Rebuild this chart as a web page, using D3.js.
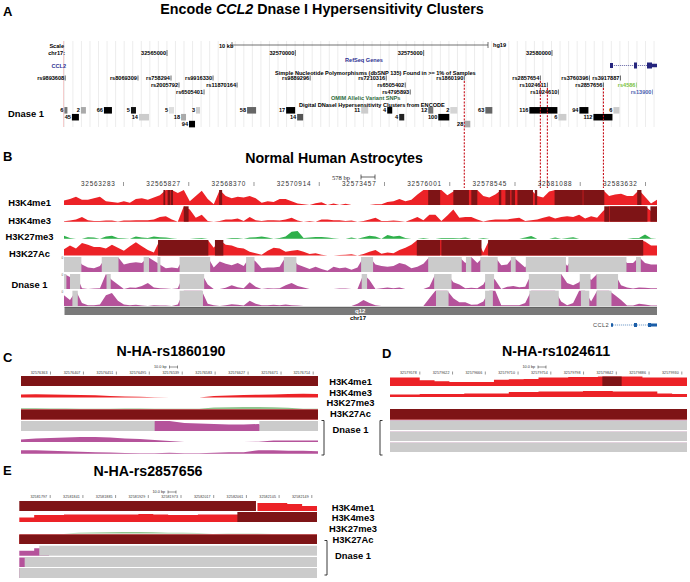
<!DOCTYPE html>
<html>
<head>
<meta charset="utf-8">
<script src="https://cdn.jsdelivr.net/npm/d3@7"></script>
<style>
body { margin: 0; background: #fff; }
text { font-family: "Liberation Sans", Arial, sans-serif; }
</style>
</head>
<body>
<svg id="fig" width="690" height="582"></svg>
<script>
// panel A: hg19 browser view
var gridBp = d3.range(32561000, 32584000, 333);
var clusterLabels = ["6","2","66","5","5","3","58","17","11","4","12","2","63","116","94","6",
    "45","14","18","14","4","100","6","112","94","28"];
var clusterStart = [32561003,32561646,32562543,32563596,32565078,32566131,32568120,32569641,32572566,32573580,32575179,32576037,32577402,32579118,32581068,32582394,
    32561295,32563908,32565546,32570070,32574048,32575569,32580249,32581614,32565858,32576583];
var clusterEnd = [32561120,32561841,32562855,32563791,32565273,32566287,32568471,32569992,32572839,32573775,32575374,32576310,32577675,32580210,32581419,32582628,
    32561568,32564298,32565741,32570304,32574243,32575998,32580561,32582355,32566092,32576817];
var clusterRow = [0,0,0,0,0,0,0,0,0,0,0,0,0,0,0,0,1,1,1,1,1,1,1,1,2,2];
var clusterShade = ["#777","#aaa","#000","#111","#ddd","#ccc","#666","#000","#ccc","#000","#777","#d5d5d5","#666","#000","#000","#ccc",
    "#000","#ccc","#aaa","#555","#222","#000","#ccc","#000","#000","#aaa"];
var snpNames = ["rs9893608","rs8069309","rs758294","rs9916330","rs9889296","rs7210316","rs1860190","rs2857654","rs3760396","rs3917887",
    "rs2005792","rs11870164","rs6505402","rs1024611","rs2857656","rs4586",
    "rs6505401","rs4795893","rs1024610","rs13900"];
var snpPos = [32561034,32563869,32565156,32566794,32570577,32573541,32576583,32579547,32581458,32582667,
    32565468,32567730,32574282,32579820,32582004,32583291,
    32566443,32574477,32580249,32583915];
var snpRow = [0,0,0,0,0,0,0,0,0,0,1,1,1,1,1,1,2,2,2,2];
var snpColor = {"rs4586": "#7ac143", "rs13900": "#4a62b0"};
var markedSnps = ["rs1860190","rs2857654","rs1024611","rs2857656"];
var chromTicks = [32565000,32570000,32575000,32580000];

// panel B: profiles read in 100 bins across the window, 100 = top of track
var overviewTicks = [32563283,32565827,32568370,32570914,32573457,32576001,32578545,32581088,32583632];
var h3k4me1 = [30,40,55,35,35,45,55,25,20,15,25,15,40,45,35,50,65,100,100,80,100,25,60,95,40,5,100,60,45,55,50,60,45,15,25,20,40,40,25,10,5,0,12,18,0,10,0,
    8,0,0,0,0,5,5,20,25,40,25,35,70,100,100,100,100,65,90,100,100,100,100,60,50,70,100,100,100,100,100,100,60,50,90,100,100,100,100,100,100,100,100,100,60,70,75,60,60,100,55,10,35];
var h3k4me3 = [3,8,15,30,10,5,5,8,8,2,8,8,10,10,10,15,30,35,15,0,100,80,25,45,5,0,5,15,15,20,5,30,10,5,10,10,8,15,25,8,0,5,0,15,15,10,10,
    5,8,0,5,15,25,5,5,8,5,0,15,30,10,45,45,5,40,80,25,30,30,15,2,10,15,15,15,20,25,5,10,15,25,35,20,30,35,30,45,20,35,25,70,100,100,100,100,100,100,100,70,100];
var h3k27me3 = [20,5,0,0,10,8,0,15,20,5,3,0,15,8,5,15,10,8,3,0,0,0,3,5,0,0,0,0,5,5,0,8,10,15,8,0,5,15,45,50,5,8,12,12,8,3,0,
    0,8,0,10,20,15,0,25,15,20,5,0,0,5,0,0,5,5,5,3,8,0,0,5,0,0,0,0,0,0,8,18,0,0,0,8,0,5,10,0,0,0,0,0,0,0,0,0,5,5,28,3,0];
var h3k27ac = [40,65,45,80,70,55,55,45,70,50,30,60,85,60,35,20,100,100,100,100,100,100,100,100,100,50,100,70,65,50,45,25,15,5,30,50,45,25,30,35,25,10,15,5,0,0,3,
    5,8,0,10,25,35,12,20,15,35,50,70,100,100,100,100,100,100,100,100,100,100,100,20,100,100,100,100,100,100,100,100,100,100,100,100,100,100,100,100,100,100,100,100,100,100,100,100,100,100,90,65,65];
var dnaseA = [100,100,100,50,30,25,40,100,100,100,50,60,65,60,100,75,50,25,30,25,100,100,100,100,100,30,70,55,45,60,40,100,70,25,30,30,35,100,100,50,35,20,35,20,8,35,25,
    30,15,30,100,100,50,40,35,40,60,50,25,35,55,100,100,100,100,100,100,60,100,60,100,100,100,45,50,100,65,30,100,100,100,100,100,100,40,100,100,100,100,100,100,100,100,100,60,60,100,60,50,50];
var dnaseB = [100,80,100,5,0,3,5,100,60,30,0,10,8,20,40,10,5,3,0,5,100,100,100,100,30,0,0,8,25,12,5,45,15,0,5,3,5,25,40,20,10,0,0,0,0,0,3,
    3,0,0,100,60,0,5,10,5,10,0,0,0,0,15,100,100,100,45,30,5,8,5,30,100,60,0,15,20,12,15,100,100,100,100,100,100,40,25,45,100,60,100,100,100,100,25,10,3,10,8,5,5];
var dnaseC = [70,40,100,20,5,5,10,70,85,35,10,5,8,3,0,5,3,3,0,10,100,100,100,100,15,5,0,5,12,8,3,35,15,5,5,8,5,10,5,3,0,0,0,0,0,0,0,
    0,0,15,40,20,5,0,0,0,0,0,0,0,0,50,100,100,100,50,25,25,8,10,30,100,100,5,5,5,5,20,100,100,100,100,100,30,5,20,100,100,30,100,100,100,70,40,3,3,15,10,3,3];
// saturated stretches, in the same bins
var h3k4me1Sat = [[16.6,16.9],[17.3,17.7],[17.8,18.2],[25.9,26.4],[60.8,62.8],[65,67.6],[68,69],[72.6,73],[73.7,74.5],[74.7,75.3],[75.7,78.3],[78.6,79],[81.9,86.6],[86.7,90.2],[95.7,96.4]];
var h3k4me3Sat = [[20,20.8],[90.2,91],[91.1,97.4],[97.9,99]];
var h3k27acSat = [[15.7,24.1],[25.2,26.6],[58.9,62.8],[63,69.7],[70.8,96.7]];
var dnaseASat = [[0,2.9],[6.3,9.1],[13.3,14.2],[15.6,16.1],[19.3,24.4],[30.4,31.8],[36.7,38.8],[49.6,51.6],[60.8,66.4],[67.1,68],[69.5,72.4],[74.6,75.4],[77.1,83.8],[84.2,93.9],[95.5,96.3]];
var dnaseBSat = [[0,0.4],[1,2.7],[7.1,7.8],[19.3,23.4],[49.7,50.6],[61.8,64.7],[70.3,71.8],[77.6,83],[86.1,87.9],[88.9,92.5]];
var dnaseCSat = [[1.4,2.3],[19.3,23.2],[62.1,64.2],[70.3,71.6],[77.7,82.6],[86.3,87.7],[88.9,91.4]];

// panels C, D, E: zoomed windows, 21 steps across
var ticksC = [32576363,32576407,32576451,32576495,32576539,32576583,32576627,32576671,32576714];
var cMe3 = [30,32,30,28,25,22,15,10,8,3,0,0,0,15,20,25,28,30,35,38,35];
var cK27me3 = [8,8,6,5,3,2,3,5,5,3,2,2,3,14,17,20,20,17,12,3,3];
var cDnaseA = [0,0,0,0,0,0,0,0,0,100,100,80,75,70,65,65,70,0,0,0,0];
var cDnaseB = [25,35,40,45,50,50,45,35,30,20,10,0,0,0,0,0,3,15,15,15,15];
var cDnaseC = [35,35,30,25,20,15,12,8,5,5,10,5,5,10,15,15,35,35,30,30,25];
var ticksD = [32579578,32579622,32579666,32579710,32579754,32579798,32579842,32579886,32579930];
var dMe1 = [90,90,60,50,43,43,43,65,70,75,90,90,95,95,100,100,100,90,90,90,70];
var dMe3 = [25,25,30,30,30,35,35,35,50,50,55,55,55,60,60,55,55,55,35,30,30];
var ticksE = [32581797,32581841,32581885,32581929,32581973,32582017,32582061,32582105,32582149];
var eMe1 = [0,0,0,0,0,0,0,0,0,0,0,0,0,0,0,0,80,80,70,50,35];
var eMe3 = [45,70,70,75,75,75,75,75,80,75,70,70,75,75,75,0,0,0,0,0,0];
var eK27me3 = [0,0,0,0,8,10,12,15,15,12,8,8,5,0,3,3,3,0,0,0,0];
var eDnaseA = [50,75,0,0,0,0,0,0,0,0,0,0,0,0,0,0,0,0,0,0,0];
var eDnaseB = [95,0,0,0,0,0,0,0,0,0,0,0,0,0,0,0,0,0,0,0,0];
var flat = [100,100];

var RED = "#ec2227", DARK = "#7e1416", GREEN = "#2fb04b", PURPLE = "#b5539b", GREY = "#cbcbcb";

var svg = d3.select("#fig");

function label(txt, x, y, size, opts) {
    opts = opts || {};
    return svg.append("text")
        .attr("x", x).attr("y", y)
        .attr("font-size", size)
        .attr("font-weight", opts.weight || "bold")
        .attr("text-anchor", opts.anchor || "start")
        .attr("dominant-baseline", "central")
        .attr("fill", opts.fill || "#000")
        .text(txt);
}

// ---------------- panel letters and titles
label("A", 3, 11, 13);
label("B", 3, 156, 13);
label("C", 3, 357, 13);
label("D", 382, 353, 13);
label("E", 3, 470, 13);

var titleA = svg.append("text").attr("x", 322).attr("y", 9).attr("text-anchor", "middle")
    .attr("dominant-baseline", "central").attr("font-size", 14.3).attr("font-weight", "bold");
titleA.append("tspan").text("Encode ");
titleA.append("tspan").attr("font-style", "italic").text("CCL2");
titleA.append("tspan").text(" Dnase I Hypersensitivity Clusters");
label("Normal Human Astrocytes", 334, 158, 14.2, {anchor: "middle"});
label("N-HA-rs1860190", 171, 351, 14.2, {anchor: "middle"});
label("N-HA-rs1024611", 556, 351, 14.2, {anchor: "middle"});
label("N-HA-rs2857656", 148, 471, 14.2, {anchor: "middle"});

// ---------------- panel A
var xA = d3.scaleLinear().domain([32565000, 32580000]).range([167, 552]);
var rowY = d3.scaleBand().domain([0, 1, 2]).range([106.7, 127.7]).padding(0.05);
var snpY = d3.scalePoint().domain([0, 1, 2]).range([78, 92]);

svg.append("g").selectAll("line").data(gridBp).enter().append("line")
    .attr("x1", function (d) { return xA(d); }).attr("x2", function (d) { return xA(d); })
    .attr("y1", 41).attr("y2", 127)
    .attr("stroke", "#e7e7e7").attr("stroke-width", 0.8);
svg.append("line").attr("x1", 63.5).attr("x2", 63.5).attr("y1", 41).attr("y2", 127).attr("stroke", "#f2c0c0").attr("stroke-width", 0.8);

var SMALL = 5.6;
label("Scale", 64, 46, SMALL, {anchor: "end"});
label("chr17:", 65, 53, SMALL, {anchor: "end"});
label("10 kb", 219, 46, SMALL);
svg.append("line").attr("x1", 232).attr("x2", 488).attr("y1", 45).attr("y2", 45).attr("stroke", "#333").attr("stroke-width", 0.7);
svg.append("line").attr("x1", 232).attr("x2", 232).attr("y1", 42).attr("y2", 48).attr("stroke", "#333").attr("stroke-width", 0.7);
svg.append("line").attr("x1", 488).attr("x2", 488).attr("y1", 42).attr("y2", 48).attr("stroke", "#333").attr("stroke-width", 0.7);
label("hg19", 493, 45, SMALL);

chromTicks.forEach(function (t) {
    label(String(t), xA(t) - 1, 53, SMALL, {anchor: "end"});
    svg.append("line").attr("x1", xA(t)).attr("x2", xA(t)).attr("y1", 50).attr("y2", 56).attr("stroke", "#111").attr("stroke-width", 0.6);
});

label("RefSeq Genes", 345, 59.5, SMALL, {fill: "#2e3192"});
label("CCL2", 66, 66, SMALL, {anchor: "end", fill: "#2e3192"});
label("Simple Nucleotide Polymorphisms (dbSNP 135) Found in >= 1% of Samples", 275, 73, SMALL);
label("OMIM Allelic Variant SNPs", 331, 98, SMALL, {fill: "#2e6b3c"});
label("Digital DNaseI Hypersensitivity Clusters from ENCODE", 299, 105, SMALL);
label("Dnase 1", 8, 113, 9.4);

function geneModel(x0, x1, y, exons, color) {
    svg.append("line").attr("x1", x0).attr("x2", x1).attr("y1", y).attr("y2", y).attr("stroke", color).attr("stroke-width", 0.6).attr("stroke-dasharray", "1.2 0.8");
    svg.append("g").selectAll("rect").data(exons).enter().append("rect")
        .attr("x", function (d) { return d[0]; }).attr("width", function (d) { return d[1] - d[0]; })
        .attr("y", function (d) { return y - d[2] / 2; }).attr("height", function (d) { return d[2]; })
        .attr("fill", color);
}
geneModel(610, 657, 65.5, [[610, 613, 5], [634, 637, 6], [647, 652, 6], [652, 657, 3.5]], "#25257d");

snpNames.forEach(function (name, i) {
    var x = xA(snpPos[i]), y = snpY(snpRow[i]), color = snpColor[name] || "#000";
    label(name, x - 1, y, SMALL, {anchor: "end", fill: color});
    svg.append("line").attr("x1", x).attr("x2", x).attr("y1", y - 2.5).attr("y2", y + 2.5).attr("stroke", color).attr("stroke-width", 0.6);
});

clusterLabels.forEach(function (txt, i) {
    var y = rowY(clusterRow[i]);
    svg.append("rect").attr("x", xA(clusterStart[i])).attr("width", xA(clusterEnd[i]) - xA(clusterStart[i]))
        .attr("y", y).attr("height", rowY.bandwidth()).attr("fill", clusterShade[i]);
    label(txt, xA(clusterStart[i]) - 1, y + rowY.bandwidth() / 2, SMALL, {anchor: "end"});
});

// red dashed guides from the marked SNPs into panel B
markedSnps.forEach(function (name) {
    var i = snpNames.indexOf(name);
    svg.append("line").attr("x1", xA(snpPos[i])).attr("x2", xA(snpPos[i]))
        .attr("y1", snpY(snpRow[i]) + 3).attr("y2", 188)
        .attr("stroke", "#c8101a").attr("stroke-width", 1.1).attr("stroke-dasharray", "2 1.4");
});

// ---------------- shared track drawing
function drawTrack(x, top, bottom, values, sat, fill, satFill, curve) {
    var y = d3.scaleLinear().domain([0, 100]).range([bottom, top]);
    var area = d3.area()
        .x(function (d, i) { return x(i * (x.domain()[1] / (values.length - 1))); })
        .y0(bottom)
        .y1(function (d) { return y(d); })
        .curve(curve);
    svg.append("path").datum(values).attr("d", area).attr("fill", fill);
    svg.append("g").selectAll("rect").data(sat).enter().append("rect")
        .attr("x", function (d) { return x(d[0]); })
        .attr("width", function (d) { return x(d[1]) - x(d[0]); })
        .attr("y", top).attr("height", bottom - top)
        .attr("fill", satFill);
}

function tickRow(scale, ticks, y, len, size, spacing, gap, dy, color) {
    var axis = d3.axisBottom(scale).tickValues(ticks).tickSize(len).tickFormat(d3.format("d"));
    var g = svg.append("g").attr("transform", "translate(0," + y + ")").call(axis);
    g.select(".domain").remove();
    g.selectAll("line").attr("stroke", color).attr("stroke-width", 0.5);
    g.selectAll("text")
        .attr("x", -gap).attr("y", dy).attr("dy", "0.35em")
        .attr("text-anchor", "end")
        .attr("font-size", size)
        .attr("font-family", "Liberation Sans")
        .attr("letter-spacing", spacing)
        .attr("fill", color);
}

// ---------------- panel B
var xB = d3.scaleLinear().domain([0, 99]).range([64, 657]);
var xBbp = d3.scaleLinear().domain([32563283, 32583632]).range([123, 645]);
tickRow(xBbp, overviewTicks, 182, 4, 6.4, 0.75, 8, 2, "#333");
label("578 bp", 332, 177, 6.6, {weight: "normal", fill: "#222"}).attr("style", "font-family:'Liberation Serif'");
svg.append("line").attr("x1", 361).attr("x2", 375).attr("y1", 177).attr("y2", 177).attr("stroke", "#222").attr("stroke-width", 0.7);
svg.append("line").attr("x1", 361).attr("x2", 361).attr("y1", 174.5).attr("y2", 179.5).attr("stroke", "#222").attr("stroke-width", 0.7);
svg.append("line").attr("x1", 375).attr("x2", 375).attr("y1", 174.5).attr("y2", 179.5).attr("stroke", "#222").attr("stroke-width", 0.7);

drawTrack(xB, 190, 205, h3k4me1, h3k4me1Sat, RED, DARK, d3.curveLinear);
drawTrack(xB, 206.3, 221.7, h3k4me3, h3k4me3Sat, RED, DARK, d3.curveLinear);
drawTrack(xB, 223.3, 238.8, h3k27me3, [], GREEN, DARK, d3.curveLinear);
drawTrack(xB, 240, 255.5, h3k27ac, h3k27acSat, RED, DARK, d3.curveLinear);
drawTrack(xB, 257, 272, dnaseA, dnaseASat, PURPLE, GREY, d3.curveLinear);
drawTrack(xB, 274, 289, dnaseB, dnaseBSat, PURPLE, GREY, d3.curveLinear);
drawTrack(xB, 290.7, 306, dnaseC, dnaseCSat, PURPLE, GREY, d3.curveLinear);
[258, 275, 292].forEach(function (y) {
    label("0", 61.5, y, 3, {weight: "normal", fill: "#555"});
});

svg.append("rect").attr("x", 64.5).attr("y", 307).attr("width", 592.5).attr("height", 8).attr("fill", "#7a7a7a");
svg.append("line").attr("x1", 64.5).attr("x2", 657).attr("y1", 307.2).attr("y2", 307.2).attr("stroke", "#444").attr("stroke-width", 0.6);
label("q12", 355, 310.5, 6, {fill: "#fff"});
label("chr17", 350, 317.5, 6, {fill: "#000"});
label("CCL2", 593, 325, 5.6, {weight: "normal", fill: "#444"}).attr("letter-spacing", 0.4);
geneModel(611, 657, 325, [[611, 613, 3.5], [634, 637, 4], [648, 651, 4], [651, 657, 3]], "#1b5ea8");

[["H3K4me1", 202], ["H3K4me3", 220], ["H3K27me3", 236], ["H3K27Ac", 253], ["Dnase 1", 284]].forEach(function (d) {
    label(d[0], 29.5, d[1], 9.4, {anchor: "middle"});
});

// ---------------- panels C, D, E
function scaleBar(txtX, barX, y) {
    label("10.0 bp", txtX, y, 3.8, {weight: "normal", fill: "#333"});
    svg.append("line").attr("x1", barX).attr("x2", barX + 8).attr("y1", y).attr("y2", y).attr("stroke", "#222").attr("stroke-width", 0.5);
    svg.append("line").attr("x1", barX).attr("x2", barX).attr("y1", y - 1.5).attr("y2", y + 1.5).attr("stroke", "#222").attr("stroke-width", 0.5);
    svg.append("line").attr("x1", barX + 8).attr("x2", barX + 8).attr("y1", y - 1.5).attr("y2", y + 1.5).attr("stroke", "#222").attr("stroke-width", 0.5);
}

function bracket(x, y0, y1, dir) {
    var line = d3.line();
    svg.append("path").attr("d", line([[x + dir * 2.5, y0], [x, y0], [x, y1], [x + dir * 2.5, y1]]))
        .attr("fill", "none").attr("stroke", "#222").attr("stroke-width", 0.9);
}

// panel C
var xC = d3.scaleLinear().domain([0, 20]).range([21, 318]);
var xCbp = d3.scaleLinear().domain([ticksC[0], ticksC[8]]).range([50, 312.7]);
tickRow(xCbp, ticksC, 371.5, 3, 3.6, 0.1, 3, 1.5, "#333");
scaleBar(154, 169.5, 367);
drawTrack(xC, 376, 386, flat, [[0, 20]], RED, DARK, d3.curveStepAfter);
drawTrack(xC, 387.5, 397.5, cMe3, [], RED, DARK, d3.curveLinear);
drawTrack(xC, 399, 409, cK27me3, [], "#8fc48d", DARK, d3.curveLinear);
drawTrack(xC, 409.5, 419.5, flat, [[0, 20]], RED, DARK, d3.curveStepAfter);
drawTrack(xC, 421, 431, cDnaseA, [[0, 9], [16.05, 20]], PURPLE, GREY, d3.curveLinear);
drawTrack(xC, 432, 442, cDnaseB, [], PURPLE, GREY, d3.curveLinear);
drawTrack(xC, 443.5, 453.7, cDnaseC, [], PURPLE, GREY, d3.curveLinear);
[["H3K4me1", 381], ["H3K4me3", 392], ["H3K27me3", 402], ["H3K27Ac", 413], ["Dnase 1", 429]].forEach(function (d) {
    label(d[0], 350.5, d[1], 9.4, {anchor: "middle"});
});
bracket(324, 420.5, 455, -1);

// panel D
var xD = d3.scaleLinear().domain([0, 20]).range([390, 687]);
var xDbp = d3.scaleLinear().domain([ticksD[0], ticksD[8]]).range([419.3, 681.3]);
tickRow(xDbp, ticksD, 371.5, 3, 3.6, 0.1, 3, 1.5, "#333");
scaleBar(522.5, 538, 367);
drawTrack(xD, 376.5, 386, dMe1, [[14.3, 15.6]], RED, DARK, d3.curveStepAfter);
drawTrack(xD, 387, 397, dMe3, [], RED, DARK, d3.curveStepAfter);
drawTrack(xD, 409, 419.5, flat, [[0, 20]], RED, DARK, d3.curveStepAfter);
drawTrack(xD, 420.5, 430, flat, [[0, 20]], PURPLE, GREY, d3.curveStepAfter);
drawTrack(xD, 431.7, 441, flat, [[0, 20]], PURPLE, GREY, d3.curveStepAfter);
drawTrack(xD, 442.7, 452, flat, [[0, 20]], PURPLE, GREY, d3.curveStepAfter);
bracket(380, 420.5, 455, 1);

// panel E
var xE = d3.scaleLinear().domain([0, 20]).range([19.3, 317]);
var xEbp = d3.scaleLinear().domain([ticksE[0], ticksE[8]]).range([49.7, 311.3]);
tickRow(xEbp, ticksE, 495, 3, 3.6, 0.1, 3, 1.5, "#333");
scaleBar(152.5, 168, 492);
drawTrack(xE, 501, 511, eMe1, [[0, 15.9]], RED, DARK, d3.curveStepAfter);
drawTrack(xE, 512, 522, eMe3, [[14.65, 20]], RED, DARK, d3.curveStepAfter);
drawTrack(xE, 524, 533.5, eK27me3, [], "#8fc48d", DARK, d3.curveLinear);
drawTrack(xE, 534.5, 544, flat, [[0, 20]], RED, DARK, d3.curveStepAfter);
drawTrack(xE, 545.7, 555.7, eDnaseA, [[1.34, 20]], PURPLE, GREY, d3.curveStepAfter);
drawTrack(xE, 557, 567, eDnaseB, [[0.36, 20]], PURPLE, GREY, d3.curveStepAfter);
drawTrack(xE, 568, 578, flat, [[0, 20]], PURPLE, GREY, d3.curveStepAfter);
[["H3K4me1", 507], ["H3K4me3", 517], ["H3K27me3", 528], ["H3K27Ac", 539], ["Dnase 1", 555]].forEach(function (d) {
    label(d[0], 353, d[1], 9.4, {anchor: "middle"});
});
bracket(327, 540.5, 575, -1);
</script>
</body>
</html>
